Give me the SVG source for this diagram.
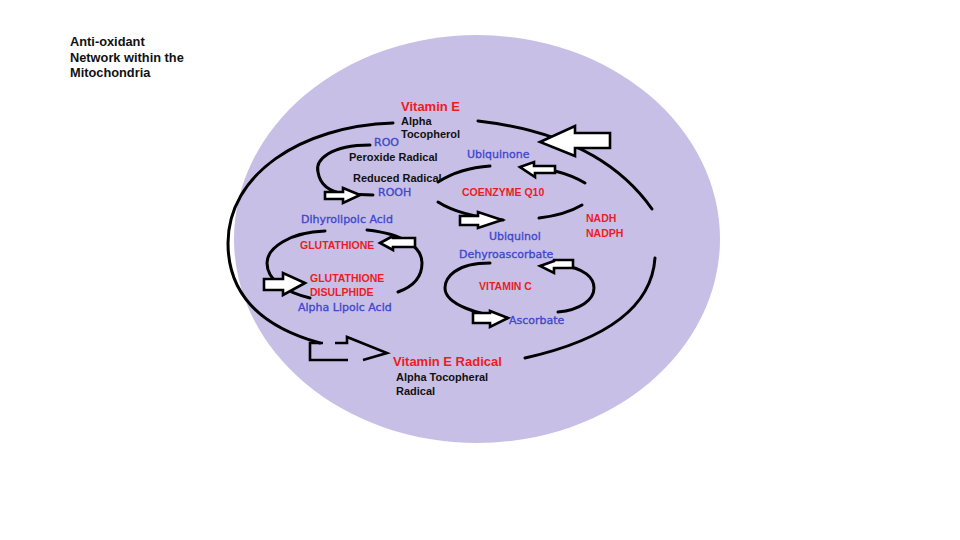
<svg xmlns="http://www.w3.org/2000/svg" width="960" height="540" viewBox="0 0 960 540">
<style>
text{font-family:"Liberation Sans",Arial,sans-serif}
.t{font-size:12.8px;font-weight:bold;fill:#111}
.k{font-size:11px;font-weight:bold;fill:#111}
.b{font-family:"DejaVu Sans",Verdana,sans-serif;font-size:11px;fill:#3F48CC;stroke:#3F48CC;stroke-width:0.35}
.r{font-size:10.5px;font-weight:bold;fill:#ED1C24}
.R{font-size:13px;font-weight:bold;fill:#ED1C24}
.arc{fill:none;stroke:#000;stroke-width:3;stroke-linecap:round}
.blk{fill:#fff;stroke:#000;stroke-width:2.6;stroke-linejoin:miter}
.open{fill:none;stroke:#000;stroke-width:2.6}
</style>
<rect width="960" height="540" fill="#fff"/>
<g id="title">
<text class="t" x="70" y="46">Anti-oxidant</text>
<text class="t" x="70" y="61.5">Network within the</text>
<text class="t" x="70" y="77">Mitochondria</text>
</g>
<g id="mitochondrion">
<ellipse cx="477" cy="239" rx="243" ry="204" fill="#C8BFE7"/>
</g>
<g id="connectors">
<path class="arc" d="M393,123 C300,126 228,175 228,243 C228,290 255,325 320,343"/>
<path class="arc" d="M478,121 Q600,135 652,209"/>
<path class="arc" d="M655,258 Q650,330 525,358"/>
<path class="arc" d="M370,145 C330,145 315,160 318,172 C320,185 330,192 345,194 L373,195"/>
<path class="arc" d="M438,182 Q460,168 490,166"/>
<path class="arc" d="M522,167 Q560,168 585,183"/>
<path class="arc" d="M438,202 Q460,216 503,220"/>
<path class="arc" d="M539,218 Q565,215 582,205"/>
<path class="arc" d="M325,231 C290,232 267,248 267,263 C267,280 285,292 310,298"/>
<path class="arc" d="M367,230 C405,234 422,248 422,263 C422,278 412,287 398,292"/>
<path class="arc" d="M490,263 C455,263 445,278 445,288 C445,305 480,315 507,318"/>
<path class="arc" d="M560,265 C585,268 594,278 594,288 C594,300 580,310 558,312"/>
<polygon class="blk" points="540,142 575,126 575,133 610,133 610,148 575,148 575,156"/>
<polygon class="blk" points="360,195 343,188 343,192 325,192 325,199 343,199 343,203"/>
<polygon class="blk" points="520,167 534,162 534,166 555,166 555,173 535,173 535,177"/>
<polygon class="blk" points="502,220 478,212 478,216 460,216 460,225 478,225 478,228"/>
<polygon class="blk" points="380,243 393,236 393,238 415,238 415,247 393,247 393,250"/>
<polygon class="blk" points="305,283 283,273 283,279 264,279 264,290 283,290 283,295"/>
<polygon class="blk" points="540,266 554,261 554,260 573,260 573,268 554,268 554,273"/>
<polygon class="blk" points="508,318 490,311 490,313 473,313 473,323 490,323 490,327"/>
<path class="open" d="M323,343 H310 V360 H348"/>
<path class="open" d="M335,343 H347 V337 L387,353 L363,360"/>
</g>
<g id="vitamin-e">
<text class="R" x="401" y="111">Vitamin E</text>
<text class="k" x="401" y="125">Alpha</text>
<text class="k" x="401" y="138">Tocopherol</text>
</g>
<g id="peroxide">
<text class="b" x="374" y="146">ROO</text>
<text class="k" x="349" y="161">Peroxide Radical</text>
<text class="k" x="353" y="182">Reduced Radical</text>
<text class="b" x="378" y="196">ROOH</text>
</g>
<g id="coq10">
<text class="b" x="467" y="158">Ubiquinone</text>
<text class="r" x="462" y="196">COENZYME Q10</text>
<text class="b" x="489" y="240">Ubiquinol</text>
</g>
<g id="nadh">
<text class="r" x="586" y="222">NADH</text>
<text class="r" x="586" y="237">NADPH</text>
</g>
<g id="glutathione">
<text class="b" x="301" y="223">Dihyrolipoic Acid</text>
<text class="r" x="300" y="249">GLUTATHIONE</text>
<text class="r" x="310" y="282">GLUTATHIONE</text>
<text class="r" x="310" y="296">DISULPHIDE</text>
<text class="b" x="298" y="311">Alpha Lipoic Acid</text>
</g>
<g id="vitamin-c">
<text class="b" x="459" y="258">Dehyroascorbate</text>
<text class="r" x="479" y="290">VITAMIN C</text>
<text class="b" x="509" y="324">Ascorbate</text>
</g>
<g id="vitamin-e-radical">
<text class="R" x="393" y="366">Vitamin E Radical</text>
<text class="k" x="396" y="381">Alpha Tocopheral</text>
<text class="k" x="396" y="395">Radical</text>
</g>
</svg>
